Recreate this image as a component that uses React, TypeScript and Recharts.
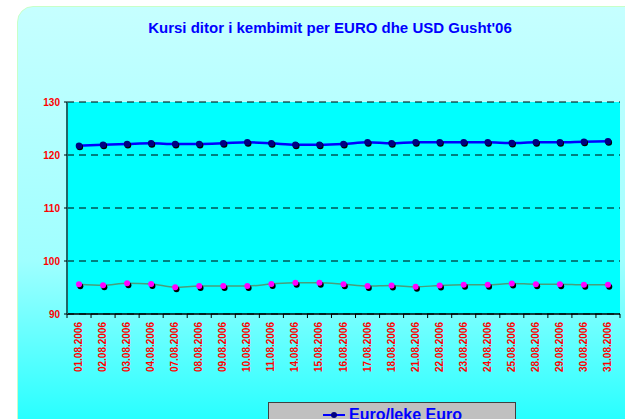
import React from "react";
import {
  LineChart,
  Line,
  XAxis,
  YAxis,
  CartesianGrid,
  Legend
} from "recharts";

const dates = [
  "01.08.2006", "02.08.2006", "03.08.2006", "04.08.2006", "07.08.2006",
  "08.08.2006", "09.08.2006", "10.08.2006", "11.08.2006", "14.08.2006",
  "15.08.2006", "16.08.2006", "17.08.2006", "18.08.2006", "21.08.2006",
  "22.08.2006", "23.08.2006", "24.08.2006", "25.08.2006", "28.08.2006",
  "29.08.2006", "30.08.2006", "31.08.2006"
];

const euro = [
  121.75, 121.94, 122.08, 122.21, 122.08, 122.08, 122.21, 122.4, 122.21, 121.94,
  121.94, 122.08, 122.4, 122.21, 122.4, 122.4, 122.4, 122.4, 122.26, 122.4,
  122.4, 122.51, 122.58
];

const usd = [
  95.63, 95.42, 95.8, 95.66, 95.04, 95.28, 95.28, 95.28, 95.66, 95.91,
  95.9, 95.63, 95.27, 95.38, 95.12, 95.38, 95.5, 95.5, 95.77, 95.63,
  95.63, 95.5, 95.5
];

const yTicks = [90, 100, 110, 120, 130];

const data = dates.map((d, i) => ({ date: d, euro: euro[i], usd: usd[i] }));

const FONT = "'Liberation Sans', Arial, sans-serif";
const PLOT_LEFT = 67;
const PLOT_RIGHT = 620;
const HALF_BAND = (PLOT_RIGHT - PLOT_LEFT) / dates.length / 2;

const DateTick = (props: any) => {
  const { x, y, payload, index } = props;
  const ax = y - 8;
  return (
    <g>
      <line x1={x + HALF_BAND} y1={ax} x2={x + HALF_BAND} y2={ax + 4} stroke="#000" />
      {index === 0 && (
        <line x1={x - HALF_BAND} y1={ax} x2={x - HALF_BAND} y2={ax + 4} stroke="#000" />
      )}
      <text
        x={x + 3}
        y={y}
        transform={`rotate(-90, ${x + 3}, ${y})`}
        textAnchor="end"
        fill="#ff0000"
        fontSize={10}
        fontWeight="bold"
        fontFamily={FONT}
      >
        {payload.value}
      </text>
    </g>
  );
};

const shadowDot = (fill: string, r: number, dx: number, dy: number) => (props: any) => {
  const { cx, cy, index } = props;
  if (cx == null || cy == null) return <g key={index} />;
  return (
    <g key={index}>
      <circle cx={cx + dx} cy={cy + dy} r={r} fill="#000" />
      <circle cx={cx} cy={cy} r={r} fill={fill} />
    </g>
  );
};

const LegendBox = () => (
  <div
    style={{
      width: 248,
      height: 60,
      background: "#c0c0c0",
      border: "1px solid #404040",
      fontFamily: FONT,
      fontWeight: "bold",
      fontSize: 16,
      color: "#0000ff",
      boxSizing: "border-box"
    }}
  >
    <div style={{ display: "flex", alignItems: "center", height: 20, paddingTop: 2, paddingLeft: 54 }}>
      <svg width={24} height={10} style={{ marginRight: 2 }}>
        <line x1={0} y1={5} x2={22} y2={5} stroke="#0000ff" strokeWidth={2} />
        <circle cx={11} cy={5} r={3} fill="#000080" />
      </svg>
      <span>Euro/leke Euro</span>
    </div>
    <div style={{ display: "flex", alignItems: "center", height: 20, paddingLeft: 54 }}>
      <svg width={24} height={10} style={{ marginRight: 2 }}>
        <line x1={0} y1={5} x2={22} y2={5} stroke="#4a9e7a" strokeWidth={1.5} />
        <circle cx={11} cy={5} r={3} fill="#ff00ff" />
      </svg>
      <span>USD/leke USD</span>
    </div>
  </div>
);

export default function App() {
  return (
    <div
      style={{
        position: "absolute",
        left: 0,
        top: 0,
        width: 625,
        height: 419,
        overflow: "hidden",
        background: "#ffffff"
      }}
    >
      <div
        style={{
          position: "absolute",
          left: 17,
          top: 6,
          width: 660,
          height: 460,
          borderRadius: 16,
          border: "1px solid #c8ffc8",
          background: "linear-gradient(to bottom, #c6ffff 0%, #a0ffff 55%, #20ffff 92%)"
        }}
      />
      <div
        style={{
          position: "absolute",
          left: 0,
          top: 19,
          width: 660,
          textAlign: "center",
          fontFamily: FONT,
          fontWeight: "bold",
          fontSize: 15,
          color: "#0000ff"
        }}
      >
        Kursi ditor i kembimit per EURO dhe USD Gusht'06
      </div>
      <div style={{ position: "absolute", left: 0, top: 0 }}>
        <LineChart
          width={625}
          height={419}
          data={data}
          margin={{ top: 102, right: 5, bottom: 35, left: 20 }}
        >
          <CartesianGrid
            horizontal
            vertical={false}
            stroke="#000000"
            strokeDasharray="7 5"
            fill="#00ffff"
            fillOpacity={1}
          />
          <XAxis
            dataKey="date"
            interval={0}
            height={70}
            padding={{ left: HALF_BAND, right: HALF_BAND }}
            tickSize={4}
            tickMargin={4}
            tickLine={false}
            axisLine={{ stroke: "#000000", strokeWidth: 1.5 }}
            tick={<DateTick />}
          />
          <YAxis
            domain={[90, 130]}
            ticks={yTicks}
            width={47}
            tickSize={3}
            tickMargin={4}
            tickLine={{ stroke: "#000" }}
            axisLine={{ stroke: "#206868", strokeWidth: 2 }}
            tick={{ fill: "#ff0000", fontSize: 10, fontWeight: "bold", fontFamily: FONT }}
          />
          <Legend
            layout="vertical"
            align="center"
            verticalAlign="middle"
            content={<LegendBox />}
            wrapperStyle={{ position: "absolute", left: 268, top: 402, width: 248 }}
          />
          <Line
            type="monotone"
            dataKey="usd"
            stroke="#4a9e7a"
            strokeWidth={1.5}
            dot={shadowDot("#ff00ff", 3, 1.3, 2)}
            isAnimationActive={false}
          />
          <Line
            type="monotone"
            dataKey="euro"
            stroke="#0000ff"
            strokeWidth={2.5}
            dot={shadowDot("#000080", 3.3, 0.8, 1.2)}
            isAnimationActive={false}
          />
        </LineChart>
      </div>
    </div>
  );
}
